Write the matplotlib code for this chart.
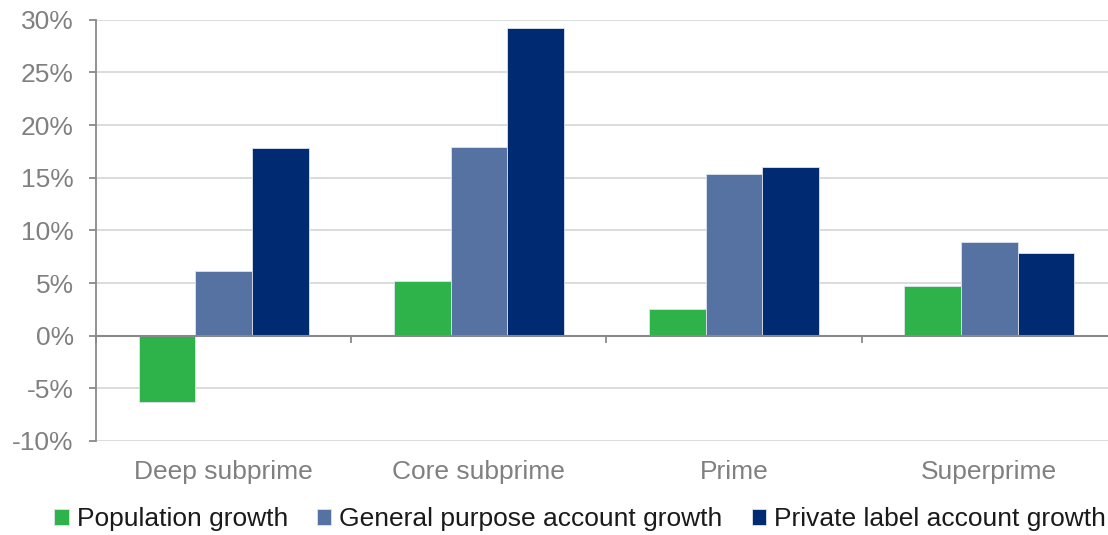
import matplotlib
matplotlib.use("Agg")
import matplotlib.pyplot as plt
import numpy as np
from matplotlib.ticker import FuncFormatter

categories = ["Deep subprime", "Core subprime", "Prime", "Superprime"]
population_growth = [-6.3, 5.2, 2.5, 4.75]
general_purpose_growth = [6.1, 17.9, 15.35, 8.9]
private_label_growth = [17.85, 29.2, 16.0, 7.85]
series_names = ["Population growth", "General purpose account growth", "Private label account growth"]
colors = ["#2DB34A", "#5572A3", "#002A72"]

plt.rcParams['font.family'] = ['Liberation Sans', 'DejaVu Sans']
FS = 19
GRAY = "#808080"

fig = plt.figure(figsize=(11.08, 5.35), dpi=100)
ax = fig.add_axes([96/1108, (535-441)/535, (1117-96)/1108, (441-19.7)/535])

x = np.arange(len(categories))
w = 2/9
series = [population_growth, general_purpose_growth, private_label_growth]
handles = []
for i, (vals, c, name) in enumerate(zip(series, colors, series_names)):
    b = ax.bar(x + (i-1)*w, vals, width=w, color=c, edgecolor="#DDE3EE", linewidth=0.6, label=name, zorder=3)
    handles.append(b)

ax.set_xlim(-0.5, len(categories)-0.5)
ax.set_ylim(-10, 30)
ax.set_yticks(np.arange(-10, 31, 5))
ax.yaxis.set_major_formatter(FuncFormatter(lambda v, p: f"{v:.0f}%"))
ax.grid(axis='y', color="#D9D9D9", linewidth=1.3, zorder=0)
ax.tick_params(axis='y', colors="#898989", labelcolor=GRAY, labelsize=FS, length=5, width=1.3, pad=11, direction='out')

for s in ['top', 'right']:
    ax.spines[s].set_visible(False)
ax.spines['left'].set_color("#898989")
ax.spines['left'].set_linewidth(1.3)
ax.spines['bottom'].set_position(('data', 0))
ax.spines['bottom'].set_color("#898989")
ax.spines['bottom'].set_linewidth(1.5)
ax.spines['bottom'].set_zorder(4)

ax.set_xticks(np.arange(-0.5, len(categories), 1.0))
ax.set_xticklabels([])
ax.tick_params(axis='x', colors="#898989", length=5, width=1.3, direction='out')

sec = ax.secondary_xaxis('bottom')
sec.set_xticks(x)
sec.set_xticklabels(categories)
sec.tick_params(axis='x', length=0, labelsize=FS, labelcolor=GRAY, pad=14)
sec.spines['bottom'].set_visible(False)

fig.legend(handles=handles, labels=series_names, loc='center', bbox_to_anchor=(580/1108, 16/535),
           ncol=3, frameon=False, fontsize=FS, handlelength=0.55, handleheight=0.55,
           handletextpad=0.3, columnspacing=1.1, labelcolor="#1A1A1A", borderpad=0, borderaxespad=0)

fig.savefig("out.png", dpi=100)
